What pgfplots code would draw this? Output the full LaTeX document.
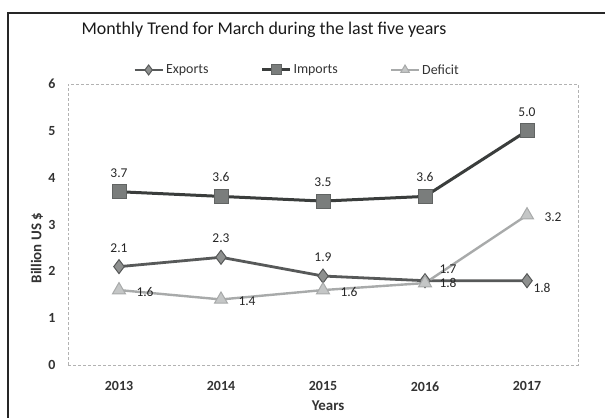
\documentclass[border=0pt]{standalone}
\usepackage{pgfplots}
\pgfplotsset{compat=1.18}
\usepackage{fontspec}
\setmainfont{Carlito}
\definecolor{impline}{HTML}{3A3D3C}
\definecolor{impfill}{HTML}{7A7D7C}
\definecolor{expline}{HTML}{575959}
\definecolor{expfill}{HTML}{8E908F}
\definecolor{defline}{HTML}{A8AAAA}
\definecolor{deffill}{HTML}{C4C6C6}
\begin{document}
\begin{tikzpicture}[x=1bp,y=1bp]
\path[use as bounding box] (-68,-52) rectangle (537,365);
\draw[line width=2.4bp, black!85] (-60,-70) -- (-60,352) -- (560,352);
\begin{axis}[
  at={(0,0)}, anchor=south west,
  scale only axis, width=510bp, height=281bp,
  xmin=-0.5, xmax=4.5, ymin=0, ymax=6,
  xtick={0,1,2,3,4}, xticklabels={2013,2014,2015,2016,2017},
  ytick={0,1,2,3,4,5,6},
  major tick length=0pt,
  axis line style={gray!60, line width=0.6bp, densely dashed},
  /pgf/number format/assume math mode=true,
  ticklabel style={font=\bfseries\fontsize{14}{16}\selectfont, text=black!80},
  xticklabel style={yshift=-13bp},
  yticklabel style={xshift=-9bp},
  xlabel={\bfseries Years},
  xlabel style={font=\fontsize{15}{17}\selectfont, text=black!80,
    at={(axis description cs:0.51,0)}, anchor=center, yshift=-41bp},
  ylabel={\bfseries Billion US \$},
  ylabel style={font=\fontsize{15}{17}\selectfont, text=black!80,
    at={(axis description cs:0,0.416)}, anchor=center, yshift=31bp},
  legend columns=3,
  legend style={draw=none, fill=none, at={(0.449,1.05)}, anchor=center,
    font=\fontsize{14}{16}\selectfont, text=black!80,
    /tikz/every even column/.append style={column sep=50bp}},
  legend cell align=left,
  legend image code/.code={\draw[mark repeat=2, mark phase=2, mark size=5bp] plot coordinates {(0bp,0bp) (14bp,0bp) (28bp,0bp)};},
  every node near coord/.append style={font=\fontsize{13.5}{15}\selectfont, text=black!85},
]
% Exports
\addplot[expline, line width=2.8bp, mark=diamond*, mark size=7bp,
  mark options={fill=expfill, draw=expline, line width=1bp, solid}]
  coordinates {(0,2.1) (1,2.3) (2,1.9) (3,1.8) (4,1.8)};
\addlegendentry{Exports}
% Imports
\addplot[impline, line width=3bp, mark=square*, mark size=7bp,
  mark options={fill=impfill, draw=impline!80, line width=1bp, solid}]
  coordinates {(0,3.7) (1,3.6) (2,3.5) (3,3.6) (4,5.0)};
\addlegendentry{Imports}
% Deficit
\addplot[defline, line width=2.4bp, mark=triangle*, mark size=7.5bp,
  mark options={fill=deffill, draw=defline, line width=1bp, solid}]
  coordinates {(0,1.6) (1,1.4) (2,1.6) (3,1.75) (4,3.2)};
\addlegendentry{Deficit}
% data labels
\addplot[draw=none, forget plot, point meta=explicit symbolic, nodes near coords,
  every node near coord/.append style={anchor=south, yshift=11bp}]
  coordinates {(0,3.7)[3.7] (1,3.6)[3.6] (2,3.5)[3.5] (3,3.6)[3.6] (4,5.0)[5.0]};
\addplot[draw=none, forget plot, point meta=explicit symbolic, nodes near coords,
  every node near coord/.append style={anchor=south, yshift=11bp}]
  coordinates {(0,2.1)[2.1] (1,2.3)[2.3] (2,1.9)[1.9]};
\addplot[draw=none, forget plot, point meta=explicit symbolic, nodes near coords,
  every node near coord/.append style={anchor=west, xshift=11bp, yshift=-2bp}]
  coordinates {(3,1.8)[1.8]};
\addplot[draw=none, forget plot, point meta=explicit symbolic, nodes near coords,
  every node near coord/.append style={anchor=west, xshift=3bp, yshift=-7bp}]
  coordinates {(4,1.8)[1.8]};
\addplot[draw=none, forget plot, point meta=explicit symbolic, nodes near coords,
  every node near coord/.append style={anchor=west, xshift=14bp, yshift=-2bp}]
  coordinates {(0,1.6)[1.6] (1,1.4)[1.4] (2,1.6)[1.6] (4,3.2)[3.2]};
\addplot[draw=none, forget plot, point meta=explicit symbolic, nodes near coords,
  every node near coord/.append style={anchor=west, xshift=11bp, yshift=14bp}]
  coordinates {(3,1.75)[1.7]};
\end{axis}
\node[font=\fontsize{18}{20}\selectfont, text=black!90] at (196,335) {Monthly Trend for March during the last five years};
\end{tikzpicture}
\end{document}
